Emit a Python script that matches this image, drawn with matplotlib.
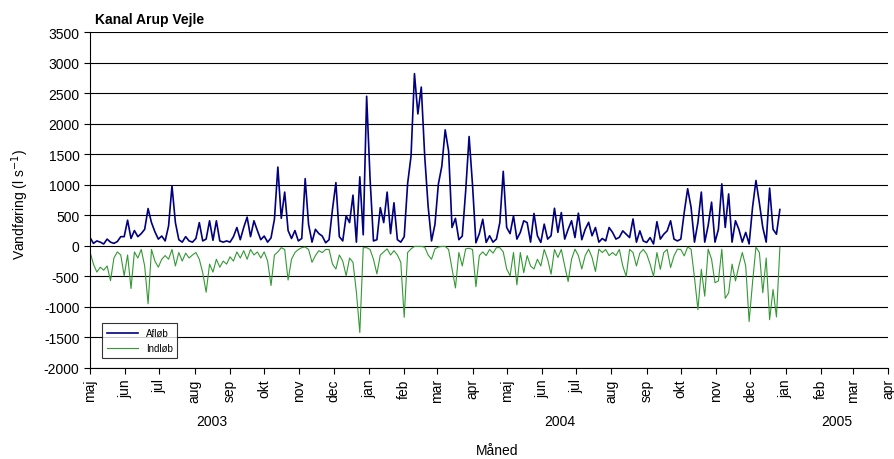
# Kanal Arup Vejle - vandføring, afløb og indløb
import matplotlib
matplotlib.use('Agg')
import matplotlib.pyplot as plt
import pandas as pd

plt.rcParams['font.family'] = ['Liberation Sans', 'DejaVu Sans']
plt.rcParams['axes.unicode_minus'] = False

# data aflaest hver 3. dag fra 1. maj 2003 (l/s)
afloeb = [
    135, 40, 80, 60, 30, 110, 60, 40, 70, 150,
    150, 420, 120, 250, 150, 200, 270, 610, 380, 230,
    110, 160, 80, 325, 980, 380, 100, 60, 150, 80,
    60, 120, 380, 80, 110, 410, 90, 410, 80, 60,
    80, 60, 150, 300, 100, 300, 470, 150, 410, 250,
    100, 160, 60, 130, 435, 1290, 450, 880, 250, 120,
    250, 80, 120, 1100, 350, 60, 270, 200, 160, 50,
    100, 600, 1035, 150, 80, 490, 380, 830, 60, 1130,
    180, 2450, 1100, 80, 100, 625, 380, 880, 200, 705,
    100, 60, 150, 1020, 1470, 2820, 2160, 2600, 1470, 650,
    80, 350, 1010, 1300, 1900, 1550, 300, 450, 100, 160,
    900, 1790, 1000, 50, 200, 435, 55, 165, 60, 110,
    380, 1220, 300, 200, 490, 110, 220, 410, 380, 60,
    530, 165, 55, 355, 110, 165, 615, 220, 545, 110,
    270, 410, 135, 535, 100, 270, 385, 165, 300, 60,
    120, 80, 300, 220, 110, 140, 245, 190, 135, 440,
    60, 245, 80, 55, 135, 30, 395, 110, 190, 245,
    410, 110, 80, 110, 550, 935, 630, 60, 380, 880,
    60, 330, 715, 60, 270, 1015, 300, 850, 60, 410,
    270, 60, 220, 30, 630, 1070, 700, 300, 60, 945,
    270, 190, 595,
]

indloeb = [
    -100, -300, -430, -350, -400, -330, -570, -200, -100, -150,
    -490, -150, -700, -100, -200, -60, -330, -950, -60, -250,
    -350, -220, -160, -220, -60, -330, -110, -250, -120, -200,
    -150, -110, -220, -440, -760, -300, -430, -220, -350, -250,
    -300, -180, -250, -100, -200, -80, -220, -60, -150, -100,
    -200, -100, -250, -650, -150, -100, -30, -60, -560, -220,
    -110, -60, -30, -20, -60, -270, -160, -80, -110, -60,
    -60, -300, -380, -150, -250, -490, -200, -270, -760, -1420,
    -30, -30, -60, -220, -460, -150, -100, -50, -150, -80,
    -150, -270, -1170, -110, -50, -10, -10, -10, -20, -150,
    -220, -50, -20, -10, -10, -60, -380, -690, -110, -330,
    -50, -40, -60, -670, -160, -100, -160, -60, -120, -30,
    -30, -100, -380, -490, -110, -640, -110, -440, -160, -330,
    -380, -220, -330, -60, -220, -465, -60, -190, -60, -330,
    -585, -220, -55, -160, -380, -160, -55, -190, -420, -55,
    -110, -60, -160, -110, -160, -60, -330, -500, -60, -110,
    -330, -120, -60, -135, -300, -500, -110, -385, -110, -60,
    -355, -165, -55, -60, -165, -20, -55, -520, -1045, -385,
    -825, -55, -220, -605, -575, -55, -860, -770, -300, -575,
    -330, -110, -330, -1240, -600, -20, -110, -770, -200, -1210,
    -715, -1165, -30,
]

datoer = pd.date_range('2003-05-01', periods=len(afloeb), freq='3D')

maaneder = ['maj', 'jun', 'jul', 'aug', 'sep', 'okt', 'nov', 'dec',
            'jan', 'feb', 'mar', 'apr', 'maj', 'jun', 'jul', 'aug',
            'sep', 'okt', 'nov', 'dec', 'jan', 'feb', 'mar', 'apr']
aar = ['2003', '2004', '2005']
aar_maaneder = [8, 12, 4]   # antal maanedsetiketter under hvert aar

fig = plt.figure(figsize=(8.94, 4.6), dpi=100)
ax = fig.add_axes([0.1007, 0.198, 0.8926, 0.730])

ax.plot(datoer, afloeb, color='#000080', lw=1.2, label='Afløb')
ax.plot(datoer, indloeb, color='#339933', lw=0.8, label='Indløb')

# akser
tick_datoer = pd.date_range('2003-05-01', periods=len(maaneder), freq='MS')
ax.set_xlim(tick_datoer[0], tick_datoer[-1])
ax.set_ylim(-2000, 3500)
ax.set_yticks(range(-2000, 3501, 500))
ax.set_xticks(tick_datoer)
ax.set_xticklabels(maaneder, rotation=90, fontsize=10)
ax.tick_params(axis='y', labelsize=10)
ax.tick_params(direction='out', length=4, width=0.8, color='black')

ax.yaxis.grid(True, color='black', lw=0.8)
ax.set_axisbelow(True)
ax.spines['top'].set_visible(False)
ax.spines['right'].set_visible(False)
ax.spines['left'].set_linewidth(0.8)
ax.spines['bottom'].set_linewidth(0.8)

# aarstal centreret under maanederne
trans = ax.get_xaxis_transform()
start = 0
for navn, n in zip(aar, aar_maaneder):
    grp = tick_datoer[start:start + n]
    midt = grp[0] + (grp[-1] - grp[0]) / 2
    ax.text(midt, -0.158, navn, transform=trans, ha='center', va='center', fontsize=10)
    start += n

fig.text(0.556, 1 - 451 / 460, 'Måned', ha='center', va='center', fontsize=10)
fig.text(0.023, 1 - 205 / 460, 'Vandføring (l s$^{-1}$)', rotation=90,
         ha='center', va='center', fontsize=10)
fig.text(95 / 894, 1 - 20 / 460, 'Kanal Arup Vejle', fontweight='bold',
         ha='left', va='center', fontsize=10)

leg = ax.legend(loc='lower left', bbox_to_anchor=(0.015, 0.03), fontsize=7,
                frameon=True, fancybox=False, edgecolor='black',
                handlelength=3.2, borderaxespad=0, borderpad=0.5,
                labelspacing=0.5)
leg.get_frame().set_linewidth(0.8)

fig.savefig('out.png', dpi=100)
